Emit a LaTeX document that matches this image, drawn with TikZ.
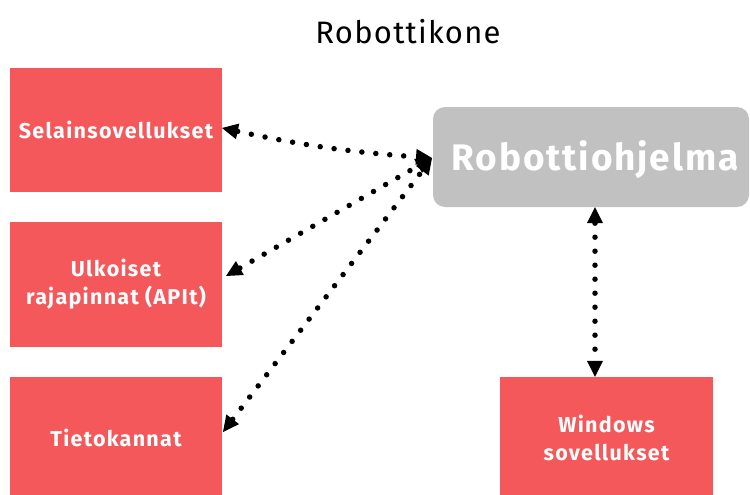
\documentclass[tikz,border=0pt]{standalone}
\usepackage{fontspec}
\setmainfont{Fira Sans}
\newfontfamily\boxfont[LetterSpace=6]{Fira Sans}
\newfontfamily\bigfont[LetterSpace=5]{Fira Sans}
\newfontfamily\titlefont[LetterSpace=4]{Fira Sans}
\usetikzlibrary{arrows.meta}
\definecolor{boxred}{HTML}{F5585B}
\definecolor{boxgray}{HTML}{C1C1C1}
\tikzset{
  redbox/.style={fill=boxred, draw=none, text=white, font=\boxfont\bfseries\fontsize{21.5}{28}\selectfont, align=center, inner sep=0pt},
  conn/.style={line width=5.5pt, line cap=round, dash pattern=on 0pt off 14pt, {Triangle[length=16pt,width=16pt,line width=0pt]}-{Triangle[length=16pt,width=16pt,line width=0pt]}}
}
\begin{document}
\begin{tikzpicture}[x=1pt,y=-1pt]
\useasboundingbox (0,0) rectangle (750,495);
\node[font=\titlefont\fontsize{31}{36}\selectfont] (title) at (408,32) {Robottikone};
\node[redbox, minimum width=212pt, minimum height=124pt] (sel) at (116,130) {Selainsovellukset};
\node[redbox, minimum width=212pt, minimum height=125pt] (api) at (116,284.5) {Ulkoiset\\rajapinnat (APIt)};
\node[redbox, minimum width=212pt, minimum height=122pt] (db) at (116,438) {Tietokannat};
\node[redbox, minimum width=213pt, minimum height=122pt] (win) at (606.5,438) {Windows\\sovellukset};
\node[fill=boxgray, rounded corners=12pt, minimum width=316pt, minimum height=100pt, inner sep=0pt] (rob) at (591,157) {};
\node[text=white, font=\bigfont\bfseries\fontsize{37}{44}\selectfont, inner sep=0pt] (robt) at (595,160) {Robottiohjelma};
\coordinate (hub) at (432,158);
\coordinate (selend) at (222,128);
\coordinate (apiend) at (226,276);
\coordinate (dbend) at (223,432);
\draw[conn] (selend) to[bend right=4] (hub);
\draw[conn] (apiend) -- (hub);
\draw[conn] (dbend) -- (hub);
\draw[conn] (rob.south -| 595,0) -- (win.north -| 595,0);
\end{tikzpicture}
\end{document}
